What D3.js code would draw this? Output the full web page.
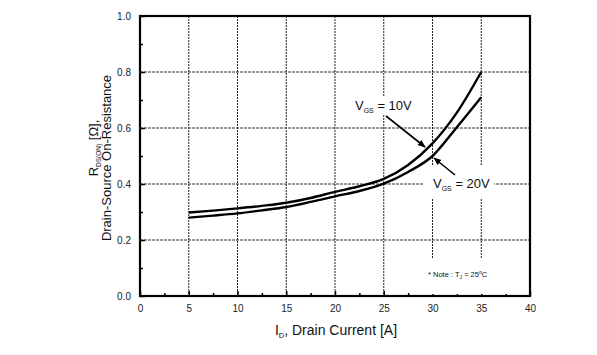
<!DOCTYPE html>
<html><head><meta charset="utf-8">
<script src="https://cdn.jsdelivr.net/npm/d3@7"></script>
<style>body{margin:0;background:#fff}svg{display:block}text{font-family:"Liberation Sans",Arial,sans-serif}</style>
</head><body><svg id="c" width="597" height="355"></svg>
<script>
const current = [5, 7.5, 10, 12.5, 15, 17.5, 20, 22.5, 25, 27.5, 30, 32.5, 35];
const rds10V = [0.298, 0.305, 0.313, 0.322, 0.333, 0.350, 0.372, 0.392, 0.418, 0.468, 0.545, 0.655, 0.800];
const rds20V = [0.280, 0.287, 0.295, 0.306, 0.318, 0.336, 0.356, 0.375, 0.401, 0.443, 0.500, 0.603, 0.710];
const xTicks = [0, 5, 10, 15, 20, 25, 30, 35, 40];
const yTicks = [0.0, 0.2, 0.4, 0.6, 0.8, 1.0];
const xMinor = [2.5, 7.5, 12.5, 17.5, 22.5, 27.5, 32.5, 37.5];
const yMinor = [0.1, 0.3, 0.5, 0.7, 0.9];

const svg = d3.select("#c");
const L = 140, R = 530, T = 16, B = 296;
const x = d3.scaleLinear().domain([0, 40]).range([L, R]);
const y = d3.scaleLinear().domain([0, 1]).range([B, T]);

// grid
svg.append("g").selectAll("line").data(xTicks.filter(d => d > 0 && d < 40)).join("line")
  .attr("x1", d => x(d)).attr("x2", d => x(d)).attr("y1", T).attr("y2", B)
  .attr("stroke", "#222").attr("stroke-width", 1).attr("stroke-dasharray", "2,1");
svg.append("g").selectAll("line").data(yTicks.filter(d => d > 0 && d < 1)).join("line")
  .attr("x1", L).attr("x2", R).attr("y1", d => y(d)).attr("y2", d => y(d))
  .attr("stroke", "#333").attr("stroke-width", 1).attr("stroke-dasharray", "3,1");

// axes (ticks inside)
const xAxis = svg.append("g").attr("transform", `translate(0,${B})`)
  .call(d3.axisBottom(x).tickValues(xTicks).tickSizeInner(-5).tickSizeOuter(0).tickPadding(9).tickFormat(d3.format("d")));
const xAxisMinor = svg.append("g").attr("transform", `translate(0,${B})`)
  .call(d3.axisBottom(x).tickValues(xMinor).tickSizeInner(-3).tickSizeOuter(0).tickFormat(""));
const yAxis = svg.append("g").attr("transform", `translate(${L},0)`)
  .call(d3.axisLeft(y).tickValues(yTicks).tickSizeInner(-5).tickSizeOuter(0).tickPadding(9).tickFormat(d3.format(".1f")));
const yAxisMinor = svg.append("g").attr("transform", `translate(${L},0)`)
  .call(d3.axisLeft(y).tickValues(yMinor).tickSizeInner(-3).tickSizeOuter(0).tickFormat(""));
[xAxis, xAxisMinor, yAxis, yAxisMinor].forEach(g => {
  g.select(".domain").remove();
  g.selectAll("line").attr("stroke", "#000").attr("stroke-width", 1.5);
  g.selectAll("text").attr("font-size", 10).attr("fill", "#222").attr("font-family", "Liberation Sans, Arial, sans-serif");
});

// frame
svg.append("rect").attr("x", L).attr("y", T).attr("width", R - L).attr("height", B - T)
  .attr("fill", "none").attr("stroke", "#000").attr("stroke-width", 2.2);

// label backgrounds
svg.append("rect").attr("x", 424).attr("y", 166).attr("width", 70).attr("height", 33).attr("fill", "#fff");
svg.append("rect").attr("x", 352).attr("y", 97).attr("width", 56).attr("height", 18).attr("fill", "#fff");
svg.append("rect").attr("x", 420).attr("y", 259).attr("width", 108).attr("height", 35).attr("fill", "#fff");

// curves
const line = d3.line().x(d => x(d[0])).y(d => y(d[1])).curve(d3.curveMonotoneX);
[rds10V, rds20V].forEach(s => {
  svg.append("path").datum(current.map((c, i) => [c, s[i]])).attr("d", line)
    .attr("fill", "none").attr("stroke", "#000").attr("stroke-width", 2.4);
});

// arrows
svg.append("defs").append("marker").attr("id", "ah").attr("viewBox", "0 0 10 10")
  .attr("refX", 9).attr("refY", 5).attr("markerWidth", 8).attr("markerHeight", 8)
  .attr("markerUnits", "userSpaceOnUse").attr("orient", "auto")
  .append("path").attr("d", "M0,1 L10,5 L0,9 Z").attr("fill", "#000");
svg.append("line").attr("x1", 386).attr("y1", 116).attr("x2", 425).attr("y2", 147)
  .attr("stroke", "#000").attr("stroke-width", 1.6).attr("marker-end", "url(#ah)");
svg.append("line").attr("x1", 455).attr("y1", 175).attr("x2", 434).attr("y2", 158)
  .attr("stroke", "#000").attr("stroke-width", 1.6).attr("marker-end", "url(#ah)");

// labels
function vgs(xp, yp, val) {
  const t = svg.append("text").attr("x", xp).attr("y", yp).attr("font-size", 13).attr("fill", "#111");
  t.append("tspan").text("V");
  t.append("tspan").attr("font-size", 7).attr("dy", 3).text("GS");
  t.append("tspan").attr("dy", -3).text(" = " + val);
}
vgs(355, 110, "10V");
vgs(433, 188, "20V");

const note = svg.append("text").attr("x", 428).attr("y", 277).attr("font-size", 7.5).attr("fill", "#111");
note.append("tspan").text("* Note : T");
note.append("tspan").attr("font-size", 5).attr("dy", 2).text("J");
note.append("tspan").attr("dy", -2).text(" = 25");
note.append("tspan").attr("font-size", 5).attr("dy", -3).text("o");
note.append("tspan").attr("dy", 3).text("C");

// x title
const xt = svg.append("text").attr("x", 336).attr("y", 335).attr("text-anchor", "middle")
  .attr("font-size", 14).attr("fill", "#111");
xt.append("tspan").text("I");
xt.append("tspan").attr("font-size", 7.5).attr("dy", 3).text("D");
xt.append("tspan").attr("dy", -3).text(", Drain Current [A]");

// y title
const y1 = svg.append("text").attr("transform", "translate(98,148) rotate(-90)").attr("text-anchor", "middle")
  .attr("font-size", 13).attr("fill", "#111");
y1.append("tspan").text("R");
y1.append("tspan").attr("font-size", 6.5).attr("dy", 3).text("DS(ON)");
y1.append("tspan").attr("dy", -3).text(" [Ω],");
svg.append("text").attr("transform", "translate(111,158) rotate(-90)").attr("text-anchor", "middle")
  .attr("font-size", 13).attr("fill", "#111").text("Drain-Source On-Resistance");
</script></body></html>
